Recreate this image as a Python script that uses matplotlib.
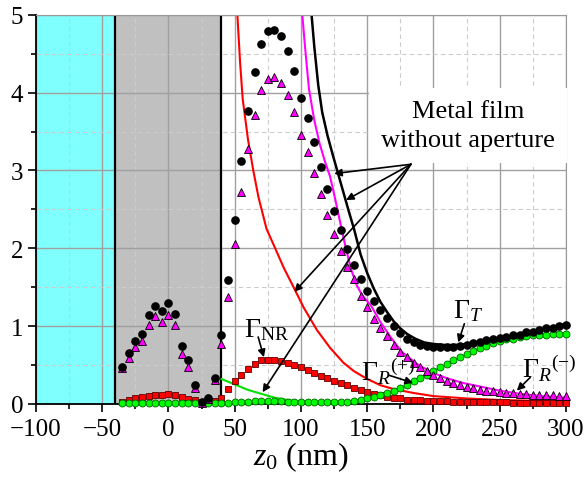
import numpy as np
import matplotlib
matplotlib.use("Agg")
import matplotlib.pyplot as plt
from matplotlib.ticker import MultipleLocator

plt.rcParams['font.family'] = ['Liberation Serif', 'DejaVu Serif']
plt.rcParams['mathtext.fontset'] = 'custom'
plt.rcParams['mathtext.rm'] = 'Liberation Serif'
plt.rcParams['mathtext.it'] = 'Liberation Serif:italic'

# tip positions along the film (nm), every 5 nm
z = np.arange(-35, 301, 5)

# with aperture (markers)
gamma_t = [0.48, 0.66, 0.81, 0.90, 1.14, 1.26, 1.19, 1.30, 1.15, 0.74, 0.56, 0.24, 0.03, 0.08, 0.33,
           0.89, 1.59, 2.37, 3.12, 3.77, 4.26, 4.63, 4.79, 4.81, 4.73, 4.53, 4.28, 3.93, 3.68, 3.36,
           3.05, 2.76, 2.48, 2.23, 1.99, 1.79, 1.60, 1.45, 1.32, 1.21, 1.11, 1.00, 0.91, 0.84, 0.79,
           0.76, 0.74, 0.73, 0.73, 0.73, 0.73, 0.74, 0.76, 0.78, 0.80, 0.82, 0.83, 0.85, 0.86, 0.88,
           0.89, 0.92, 0.93, 0.95, 0.97, 0.98, 1.00, 1.01]
gamma_r_minus = [0.46, 0.59, 0.73, 0.81, 1.02, 1.13, 1.05, 1.14, 1.01, 0.64, 0.47, 0.21, 0.01, 0.06, 0.31,
                 0.77, 1.38, 2.06, 2.72, 3.27, 3.71, 4.03, 4.17, 4.20, 4.13, 3.97, 3.75, 3.46, 3.24, 2.97,
                 2.70, 2.43, 2.19, 1.97, 1.76, 1.60, 1.39, 1.24, 1.09, 0.98, 0.87, 0.76, 0.67, 0.60, 0.53,
                 0.47, 0.42, 0.37, 0.33, 0.30, 0.27, 0.24, 0.22, 0.20, 0.18, 0.17, 0.16, 0.15, 0.14, 0.135,
                 0.13, 0.125, 0.12, 0.115, 0.11, 0.11, 0.105, 0.10]
gamma_nr = [0.03, 0.055, 0.07, 0.085, 0.10, 0.115, 0.11, 0.125, 0.115, 0.085, 0.065, 0.045, 0.02, 0.03, 0.04,
            0.08, 0.19, 0.29, 0.37, 0.45, 0.51, 0.56, 0.57, 0.57, 0.55, 0.53, 0.50, 0.47, 0.44, 0.40,
            0.36, 0.33, 0.30, 0.27, 0.24, 0.21, 0.18, 0.15, 0.13, 0.11, 0.095, 0.08, 0.07, 0.055, 0.05,
            0.045, 0.04, 0.037, 0.034, 0.031, 0.029, 0.027, 0.025, 0.023, 0.022, 0.021, 0.02, 0.019, 0.018, 0.017,
            0.016, 0.015, 0.015, 0.014, 0.014, 0.013, 0.013, 0.012]
gamma_r_plus = [0.01, 0.01, 0.01, 0.01, 0.01, 0.01, 0.01, 0.01, 0.01, 0.01, 0.01, 0.01, 0.01, 0.01, 0.01,
                0.01, 0.015, 0.02, 0.025, 0.03, 0.035, 0.04, 0.04, 0.04, 0.035, 0.03, 0.03, 0.025, 0.02, 0.02,
                0.02, 0.02, 0.02, 0.025, 0.03, 0.04, 0.055, 0.07, 0.09, 0.115, 0.14, 0.17, 0.21, 0.24, 0.29,
                0.33, 0.37, 0.42, 0.47, 0.51, 0.56, 0.60, 0.64, 0.68, 0.72, 0.75, 0.78, 0.81, 0.83, 0.84,
                0.86, 0.87, 0.88, 0.89, 0.89, 0.895, 0.90, 0.90]

# metal film without aperture (lines)
film_t_z = [106, 108, 110, 113, 116, 120, 124, 128, 132, 136, 140, 145, 150, 155, 160, 165, 170, 175,
            180, 186, 193, 200, 210, 220, 230, 240, 250, 262, 275, 288, 300]
film_t = [5.4, 5.0, 4.6, 4.1, 3.75, 3.45, 3.2, 2.96, 2.72, 2.48, 2.25, 1.92, 1.68, 1.48, 1.31, 1.18, 1.06, 0.97,
          0.90, 0.84, 0.79, 0.77, 0.755, 0.76, 0.78, 0.80, 0.84, 0.88, 0.93, 0.98, 1.03]
film_rm_z = [100, 101, 103, 106, 110, 114, 118, 122, 126, 130, 134, 138, 142, 146, 153, 160, 168, 176,
             187, 198, 210, 222, 236, 250, 265, 282, 300]
film_rm = [5.3, 5.0, 4.6, 4.05, 3.65, 3.35, 3.12, 2.92, 2.62, 2.3, 1.99, 1.72, 1.53, 1.40, 1.26, 1.05, 0.85, 0.67,
           0.52, 0.41, 0.33, 0.27, 0.22, 0.17, 0.13, 0.10, 0.08]
film_nr_z = [51, 52, 54, 56, 60, 64, 68, 74, 80, 87, 95, 102, 112, 122, 132, 140, 150, 160, 170, 185,
             200, 225, 250, 275, 300]
film_nr = [5.3, 5.0, 4.4, 3.92, 3.4, 3.0, 2.65, 2.25, 2.02, 1.75, 1.48, 1.24, 0.95, 0.72, 0.53, 0.42, 0.32, 0.24,
           0.19, 0.14, 0.10, 0.07, 0.05, 0.04, 0.03]
film_rp_z = [40, 45, 50, 55, 60, 65, 70, 75, 80, 85, 90, 95, 100, 110, 120, 130, 140, 150, 160, 170, 180,
             190, 200, 210, 220, 230, 240, 250, 260, 270, 280, 290, 300]
film_rp = [0.32, 0.285, 0.25, 0.215, 0.18, 0.155, 0.13, 0.105, 0.08, 0.065, 0.05, 0.04, 0.03, 0.025, 0.025,
           0.03, 0.04, 0.07, 0.115, 0.17, 0.24, 0.33, 0.42, 0.51, 0.60, 0.68, 0.75, 0.81, 0.84, 0.87, 0.89,
           0.895, 0.90]

fig = plt.figure(figsize=(5.85, 4.89), dpi=100)
ax = fig.add_axes([0.0615, 0.172, 0.906, 0.7955])

# substrate / film regions
ax.axvspan(-100, -40, color='#80ffff', lw=0, zorder=0)
ax.axvspan(-40, 40, color='#c0c0c0', lw=0, zorder=0)
ax.axvline(-40, color='k', lw=1.6, zorder=1.6)
ax.axvline(40, color='k', lw=1.6, zorder=1.6)

ax.plot(film_nr_z, film_nr, color='red', lw=1.5, zorder=2)
ax.plot(film_rp_z, film_rp, color='#00e000', lw=1.5, zorder=2)
ax.plot(film_rm_z, film_rm, color='magenta', lw=1.5, zorder=2)
ax.plot(film_t_z, film_t, color='black', lw=1.8, zorder=2)

ax.plot(z, gamma_nr, 's', ms=4.8, mfc='red', mec='#600000', mew=0.6, zorder=3, clip_on=False)
ax.plot(z, gamma_r_plus, 'o', ms=5, mfc='#00ff00', mec='#006000', mew=0.6, zorder=3, clip_on=False)
ax.plot(z, gamma_r_minus, '^', ms=5.5, mfc='magenta', mec='black', mew=0.6, zorder=3, clip_on=False)
ax.plot(z, gamma_t, 'o', ms=5.2, mfc='black', mec='black', zorder=3, clip_on=False)

ax.set_xlim(-100, 300)
ax.set_ylim(0, 5)
ax.xaxis.set_major_locator(MultipleLocator(50))
ax.xaxis.set_minor_locator(MultipleLocator(25))
ax.yaxis.set_major_locator(MultipleLocator(1))
ax.yaxis.set_minor_locator(MultipleLocator(0.5))
ax.grid(which='major', color='#a0a0a0', lw=1.0, ls='-')
ax.grid(which='minor', color='#cccccc', lw=0.8, ls=(0, (4, 3)))
ax.tick_params(which='both', direction='out', labelsize=18, width=1.2,
               top=False, right=False)
ax.tick_params(axis='x', which='both', pad=4)
ax.tick_params(axis='y', which='both', pad=3)
ax.tick_params(which='major', length=6)
ax.tick_params(which='minor', length=3.5)
for s in ['left', 'bottom']:
    ax.spines[s].set_linewidth(1.3)
for s in ['top', 'right']:
    ax.spines[s].set_color('#999999')
ax.set_xlabel('$z_0$ (nm)', fontsize=23, labelpad=0)

# labels of the curves
ax.text(226, 3.58, 'Metal film\nwithout aperture', fontsize=19, ha='center', va='center',
        linespacing=1.4, zorder=4,
        bbox=dict(facecolor='white', edgecolor='none', boxstyle='square,pad=0.45'))
arrow = dict(arrowstyle='-|>', color='black', lw=1.2, mutation_scale=11, shrinkA=0, shrinkB=0)
for tip in [(125, 2.96), (134, 2.62), (95, 1.44), (71, 0.15)]:
    ax.annotate('', xy=tip, xytext=(183, 3.08), arrowprops=arrow, zorder=4)

ax.text(57, 0.87, r'$\Gamma_{\mathrm{NR}}$', fontsize=20, ha='left', va='baseline')
ax.annotate('', xy=(72, 0.60), xytext=(67.7, 0.86), arrowprops=arrow)
ax.text(215, 1.12, r'$\Gamma_{T}$', fontsize=20, ha='left', va='baseline')
ax.annotate('', xy=(218.7, 0.79), xytext=(223.3, 1.03), arrowprops=arrow)
ax.text(145.5, 0.32, r'$\Gamma_{R}{}^{(+)}$', fontsize=20, ha='left', va='baseline')
ax.annotate('', xy=(184.6, 0.27), xytext=(166, 0.37), arrowprops=arrow)
ax.text(266.7, 0.36, r'$\Gamma_{R}{}^{(\mathrm{-})}$', fontsize=20, ha='left', va='baseline')
ax.annotate('', xy=(262.9, 0.17), xytext=(273, 0.34), arrowprops=arrow)

fig.savefig('out.png', dpi=100)
